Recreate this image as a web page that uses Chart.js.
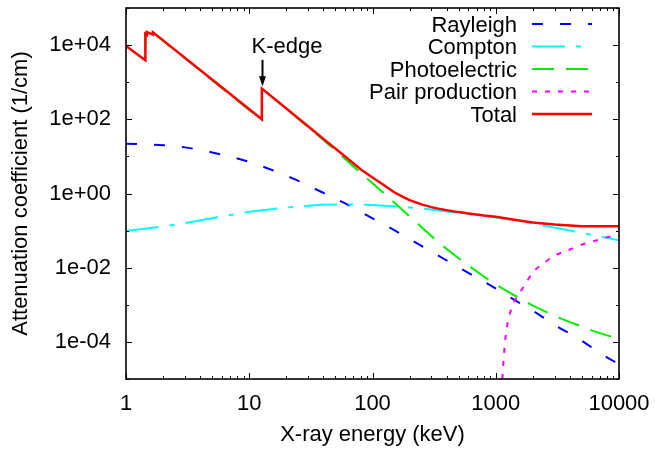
<!DOCTYPE html>
<html>
<head>
<meta charset="utf-8">
<script src="https://cdn.jsdelivr.net/npm/chart.js@4.4.1/dist/chart.umd.min.js"></script>
<style>
  html, body { margin: 0; padding: 0; background: #ffffff; }
  #wrap { width: 655px; height: 452px; }
</style>
</head>
<body>
<div id="wrap"><canvas id="chart" width="655" height="452"></canvas></div>
<script>
// Linear attenuation coefficients of selenium (1/cm) versus photon energy (keV)

const totalEnergy = [1, 1.436, 1.436, 1.476, 1.476, 1.654, 1.654, 12.66, 12.66, 20, 30, 40, 56, 80, 100, 120, 150, 175, 200, 250, 300, 350, 400, 500, 600, 800, 1000, 1500, 2000, 3000, 4000, 5000, 6000, 8000, 10000];
const totalValues = [9500, 3900, 20000, 18800, 22500, 19200, 22000, 100, 675, 195, 65, 29.5, 12, 4.5, 2.7, 1.8, 1.08, 0.82, 0.66, 0.51, 0.43, 0.385, 0.355, 0.315, 0.29, 0.255, 0.235, 0.19, 0.165, 0.145, 0.137, 0.132, 0.130, 0.130, 0.131];

const photoEnergy = [1, 1.436, 1.436, 1.476, 1.476, 1.654, 1.654, 12.66, 12.66, 20, 30, 40, 56, 80, 100, 150, 200, 300, 400, 500, 600, 800, 1000, 1500, 2000, 3000, 4000, 5000, 6000, 8000, 10000];
const photoValues = [9450, 3870, 19950, 18750, 22450, 19150, 21950, 94, 668, 191, 62.5, 27.5, 10.5, 3.6, 1.9, 0.57, 0.24, 0.072, 0.032, 0.018, 0.0115, 0.0058, 0.0035, 0.0016, 0.00095, 0.0005, 0.00034, 0.00026, 0.000205, 0.00015, 0.00012];

const rayleighEnergy = [1, 2, 3, 5, 9, 14, 23.5, 37.5, 60, 95, 150, 230, 375, 580, 900, 1430, 2290, 3030, 4680, 7460, 10000];
const rayleighValues = [22, 20, 17.5, 12.8, 7.9, 4.8, 2.4, 1.15, 0.54, 0.235, 0.103, 0.045, 0.0177, 0.0077, 0.0034, 0.00133, 0.00052, 0.00028, 0.000123, 0.000044, 0.000025];

const comptonEnergy = [1, 2, 3, 5, 10, 20, 30, 40, 50, 70, 100, 150, 200, 300, 500, 700, 1000, 1500, 2000, 3000, 4000, 5000, 6000, 8000, 10000];
const comptonValues = [0.098, 0.13, 0.16, 0.215, 0.32, 0.42, 0.465, 0.495, 0.505, 0.505, 0.49, 0.45, 0.42, 0.37, 0.30, 0.26, 0.225, 0.185, 0.155, 0.12, 0.10, 0.086, 0.077, 0.064, 0.055];

const pairEnergy = [1100, 1130, 1200, 1350, 1500, 1700, 2000, 2500, 3000, 4000, 5000, 6000, 8000, 10000];
const pairValues = [2e-6, 1e-5, 1.3e-4, 8.5e-4, 1.7e-3, 3.2e-3, 7.5e-3, 0.014, 0.021, 0.031, 0.042, 0.050, 0.066, 0.078];

const xTicks = [1, 10, 100, 1000, 10000];
const xTickLabels = ['1', '10', '100', '1000', '10000'];
const yTicks = [1e-4, 1e-2, 1e0, 1e2, 1e4];
const yTickLabels = ['1e-04', '1e-02', '1e+00', '1e+02', '1e+04'];

const seriesNames = ['Rayleigh', 'Compton', 'Photoelectric', 'Pair production', 'Total'];

// K-edge marker: energy, arrow tail and tip values
const kEdgeEnergy = 12.66;
const kEdgeArrowFrom = 4000;
const kEdgeArrowTo = 780;

const FONT = '"Liberation Sans", Arial, Helvetica, sans-serif';
const FONT_SIZE = 22;

function points(xs, ys) {
  return xs.map((x, i) => ({ x: x, y: ys[i] }));
}

const datasets = [
  { label: seriesNames[0], data: points(rayleighEnergy, rayleighValues), borderColor: '#0000ff', borderWidth: 2, borderDash: [11, 17], order: 4, cubicInterpolationMode: 'monotone' },
  { label: seriesNames[1], data: points(comptonEnergy, comptonValues), borderColor: '#00ffff', borderWidth: 2, borderDash: [33, 11, 5, 11], order: 3, cubicInterpolationMode: 'monotone' },
  { label: seriesNames[2], data: points(photoEnergy, photoValues), borderColor: '#00ee00', borderWidth: 2, borderDash: [22, 12], order: 2 },
  { label: seriesNames[3], data: points(pairEnergy, pairValues), borderColor: '#ff00ff', borderWidth: 2, borderDash: [5, 8], order: 1, cubicInterpolationMode: 'monotone' },
  { label: seriesNames[4], data: points(totalEnergy, totalValues), borderColor: '#ff0000', borderWidth: 2.5, borderDash: [], order: 0 }
];
datasets.forEach(d => { d.pointRadius = 0; d.fill = false; d.tension = 0; d.borderCapStyle = 'butt'; d.borderJoinStyle = 'miter'; });

// Frame with inward major/minor ticks on all four sides
const framePlugin = {
  id: 'frame',
  afterDraw(chart) {
    const ctx = chart.ctx;
    const a = chart.chartArea;
    const xs = chart.scales.x, ys = chart.scales.y;
    ctx.save();
    ctx.strokeStyle = '#000000';
    ctx.lineWidth = 1;
    ctx.beginPath();
    for (let d = 0; d <= 4; d++) {
      for (let m = 1; m <= 9; m++) {
        const v = m * Math.pow(10, d);
        if (v > 10000) break;
        const px = Math.round(xs.getPixelForValue(v)) + 0.5;
        const len = m === 1 ? 6 : 3;
        ctx.moveTo(px, a.bottom); ctx.lineTo(px, a.bottom - len);
        ctx.moveTo(px, a.top); ctx.lineTo(px, a.top + len);
      }
    }
    for (let e = -5; e <= 5; e++) {
      const py = Math.round(ys.getPixelForValue(Math.pow(10, e))) + 0.5;
      const len = (e % 2 === 0) ? 6 : 3;
      ctx.moveTo(a.left, py); ctx.lineTo(a.left + len, py);
      ctx.moveTo(a.right, py); ctx.lineTo(a.right - len, py);
    }
    ctx.stroke();
    ctx.lineWidth = 1.6;
    ctx.strokeRect(a.left, a.top, a.right - a.left, a.bottom - a.top);

    // K-edge arrow and label
    const ax = Math.round(xs.getPixelForValue(kEdgeEnergy)) + 0.5;
    const ay0 = ys.getPixelForValue(kEdgeArrowFrom);
    const ay1 = ys.getPixelForValue(kEdgeArrowTo);
    ctx.lineWidth = 2;
    ctx.beginPath();
    ctx.moveTo(ax, ay0); ctx.lineTo(ax, ay1 - 8);
    ctx.stroke();
    ctx.fillStyle = '#000000';
    ctx.beginPath();
    ctx.moveTo(ax - 3.5, ay1 - 10);
    ctx.lineTo(ax + 3.5, ay1 - 10);
    ctx.lineTo(ax, ay1);
    ctx.closePath();
    ctx.fill();
    ctx.font = FONT_SIZE + 'px ' + FONT;
    ctx.textAlign = 'left';
    ctx.textBaseline = 'alphabetic';
    ctx.fillText('K-edge', ax - 11, ay0 - 7);

    // Key, top right inside the frame
    const textRight = 517, lineStart = 532, lineEnd = 592;
    chart.data.datasets.forEach((ds, i) => {
      const rowY = 24 + i * 22.5;
      ctx.fillStyle = '#000000';
      ctx.textAlign = 'right';
      ctx.fillText(ds.label, textRight, rowY + 7.5);
      ctx.strokeStyle = ds.borderColor;
      ctx.lineWidth = ds.borderWidth;
      ctx.setLineDash(ds.borderDash);
      ctx.beginPath();
      ctx.moveTo(lineStart, rowY); ctx.lineTo(lineEnd, rowY);
      ctx.stroke();
      ctx.setLineDash([]);
    });
    ctx.restore();
  }
};

function clearPadding(s) {
  s.paddingLeft = 0; s.paddingRight = 0; s.paddingTop = 0; s.paddingBottom = 0;
}

const tickFont = { family: FONT, size: FONT_SIZE };

new Chart(document.getElementById('chart'), {
  type: 'line',
  data: { datasets: datasets },
  options: {
    responsive: false,
    devicePixelRatio: 1,
    animation: false,
    layout: { padding: { top: 8, right: 36, left: 0, bottom: 0 } },
    plugins: { legend: { display: false }, tooltip: { enabled: false } },
    scales: {
      x: {
        type: 'logarithmic',
        min: 1, max: 10000,
        afterBuildTicks: s => { s.ticks = xTicks.map(v => ({ value: v })); },
        afterFit: s => { s.height = 73; clearPadding(s); },
        ticks: { callback: (v, i) => xTickLabels[i], font: tickFont, color: '#000000', padding: 12, maxRotation: 0, autoSkip: false },
        grid: { display: false, drawTicks: false },
        border: { display: false },
        title: { display: true, text: 'X-ray energy (keV)', font: tickFont, color: '#000000', padding: { top: 0, bottom: 4 } }
      },
      y: {
        type: 'logarithmic',
        min: 1e-5, max: 1e5,
        afterBuildTicks: s => { s.ticks = yTicks.map(v => ({ value: v })); },
        afterFit: s => { s.width = 126; clearPadding(s); },
        ticks: { callback: (v, i) => yTickLabels[i], font: tickFont, color: '#000000', padding: 15, autoSkip: false },
        grid: { display: false, drawTicks: false },
        border: { display: false },
        title: { display: true, text: 'Attenuation coefficient (1/cm)', font: tickFont, color: '#000000', padding: { top: 8, bottom: 0 } }
      }
    }
  },
  plugins: [framePlugin]
});
</script>
</body>
</html>
